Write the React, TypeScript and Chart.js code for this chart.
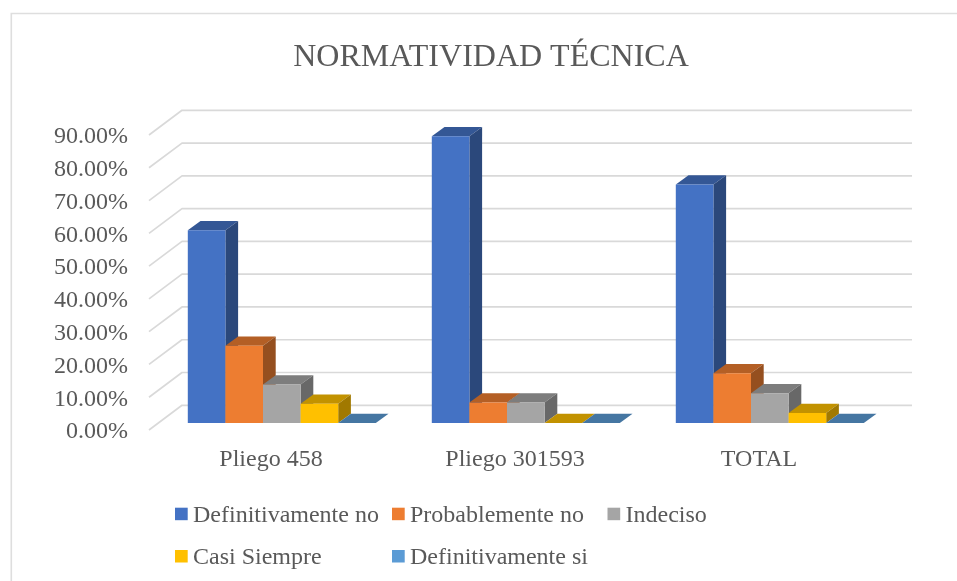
import React, { useEffect, useRef } from "react";
import { Chart, registerables } from "chart.js";

Chart.register(...registerables);

const categories = ["Pliego 458", "Pliego 301593", "TOTAL"];
const definitivamenteNo = [58.82, 87.5, 72.73];
const probablementeNo = [23.53, 6.25, 15.15];
const indeciso = [11.76, 6.25, 9.09];
const casiSiempre = [5.88, 0, 3.03];
const definitivamenteSi = [0, 0, 0];

const seriesNames = ["Definitivamente no", "Probablemente no", "Indeciso", "Casi Siempre", "Definitivamente si"];
const seriesValues = [definitivamenteNo, probablementeNo, indeciso, casiSiempre, definitivamenteSi];
const seriesColors = ["#4472C4", "#ED7D31", "#A5A5A5", "#FFC000", "#5B9BD5"];

const FONT = '"Liberation Serif"';
const TEXT = "#595959";
const GRID = "#d9d9d9";

const WALL_DX = 33;
const WALL_DY = 24.7;
const BAR_SHIFT_X = 10.8;
const BAR_SHIFT_Y = 7;
const BAR_DX = 12.7;
const BAR_DY = 9.3;

const shade = (hex: string, f: number) => {
  const n = parseInt(hex.slice(1), 16);
  const r = Math.round(((n >> 16) & 255) * f);
  const g = Math.round(((n >> 8) & 255) * f);
  const b = Math.round((n & 255) * f);
  return `rgb(${r},${g},${b})`;
};

const poly = (ctx: CanvasRenderingContext2D, pts: number[][], fill: string) => {
  ctx.beginPath();
  pts.forEach(([x, y], i) => (i ? ctx.lineTo(x, y) : ctx.moveTo(x, y)));
  ctx.closePath();
  ctx.fillStyle = fill;
  ctx.fill();
};

const frame = {
  id: "frame",
  afterLayout(chart: any) {
    // the y scale's labels reach past its box: widen the box they are clipped to
    chart.scales.y.left = 0;
  },
  beforeDraw(chart: any) {
    const { ctx, width } = chart;
    ctx.save();
    ctx.strokeStyle = "#dedede";
    ctx.lineWidth = 1.6;
    ctx.beginPath();
    ctx.moveTo(11.3, 581);
    ctx.lineTo(11.3, 13.5);
    ctx.lineTo(width, 13.5);
    ctx.stroke();
    ctx.restore();
  },
};

const bars3d = {
  id: "bars3d",
  beforeDatasetsDraw(chart: any) {
    const { ctx, chartArea, scales } = chart;
    // back and side walls
    ctx.save();
    ctx.strokeStyle = GRID;
    ctx.lineWidth = 1.7;
    ctx.lineJoin = "round";
    scales.y.ticks.forEach((t: any) => {
      const y = scales.y.getPixelForValue(t.value);
      ctx.beginPath();
      ctx.moveTo(chartArea.left, y);
      ctx.lineTo(chartArea.left + WALL_DX, y - WALL_DY);
      ctx.lineTo(chartArea.right + 31, y - WALL_DY);
      ctx.stroke();
    });
    ctx.restore();
    // bars, first series first, each with its top and side
    chart.data.datasets.forEach((ds: any, i: number) => {
      const meta = chart.getDatasetMeta(i);
      const color = ds.backgroundColor;
      ctx.save();
      ctx.translate(BAR_SHIFT_X, -BAR_SHIFT_Y);
      meta.data.forEach((el: any) => {
        const { x, y, base, width } = el.getProps(["x", "y", "base", "width"], true);
        const x0 = x - width / 2;
        const x1 = x + width / 2;
        poly(ctx, [[x0, y], [x0 + BAR_DX, y - BAR_DY], [x1 + BAR_DX, y - BAR_DY], [x1, y]], shade(color, 0.76));
        if (base - y > 0.1) {
          poly(ctx, [[x1, y], [x1 + BAR_DX, y - BAR_DY], [x1 + BAR_DX, base - BAR_DY], [x1, base]], shade(color, 0.63));
        }
      });
      meta.controller.draw();
      ctx.restore();
    });
  },
  beforeDatasetDraw() {
    return false;
  },
};

const legendCols = [175, 392, 607.5];
const legendBaselines = [521.7, 564];
const legendPerRow = 3;

const legend3d = {
  id: "legend3d",
  afterDraw(chart: any) {
    const { ctx } = chart;
    ctx.save();
    ctx.font = `24px ${FONT}`;
    ctx.textBaseline = "alphabetic";
    ctx.textAlign = "left";
    chart.data.datasets.forEach((ds: any, i: number) => {
      const x = legendCols[i % legendPerRow];
      const y = legendBaselines[Math.floor(i / legendPerRow)];
      ctx.fillStyle = ds.backgroundColor;
      ctx.fillRect(x, y - 14, 12.7, 12.5);
      ctx.fillStyle = TEXT;
      ctx.fillText(ds.label, x + 18, y);
    });
    ctx.restore();
  },
};

export default function App() {
  const ref = useRef<HTMLCanvasElement>(null);
  useEffect(() => {
    const chart = new Chart(ref.current as HTMLCanvasElement, {
      type: "bar",
      data: {
        labels: categories,
        datasets: seriesNames.map((label, i) => ({
          label,
          data: seriesValues[i],
          backgroundColor: seriesColors[i],
          borderWidth: 0,
          barPercentage: 1,
          categoryPercentage: 0.7705,
        })),
      } as any,
      options: {
        animation: false,
        responsive: false,
        layout: { padding: { left: 101, right: 76, top: 0, bottom: 0 } },
        plugins: {
          legend: { display: false },
          tooltip: { enabled: false },
          title: {
            display: true,
            text: "NORMATIVIDAD TÉCNICA",
            color: TEXT,
            font: { family: FONT, size: 32, weight: "normal" },
            padding: { top: 38, bottom: 58.6 },
          },
        },
        scales: {
          x: {
            grid: { display: false },
            border: { display: false },
            ticks: { color: TEXT, font: { family: FONT, size: 24 }, padding: 7, maxRotation: 0, autoSkip: false },
            afterFit: (s: any) => { s.height = 151; },
          },
          y: {
            min: 0,
            max: 90,
            grid: { display: false },
            border: { display: false },
            ticks: {
              stepSize: 10,
              color: TEXT,
              font: { family: FONT, size: 24 },
              padding: 13,
              labelOffset: 2,
              callback: (v: any) => Number(v).toFixed(2) + "%",
            },
            afterFit: (s: any) => { s.width = 48; },
          },
        },
      } as any,
      plugins: [frame, bars3d, legend3d],
    });
    return () => chart.destroy();
  }, []);
  return (
    <div style={{ position: "fixed", left: 0, top: 0, width: 957, height: 581, background: "#fff" }}>
      <canvas ref={ref} width={957} height={581} style={{ display: "block" }} />
    </div>
  );
}
